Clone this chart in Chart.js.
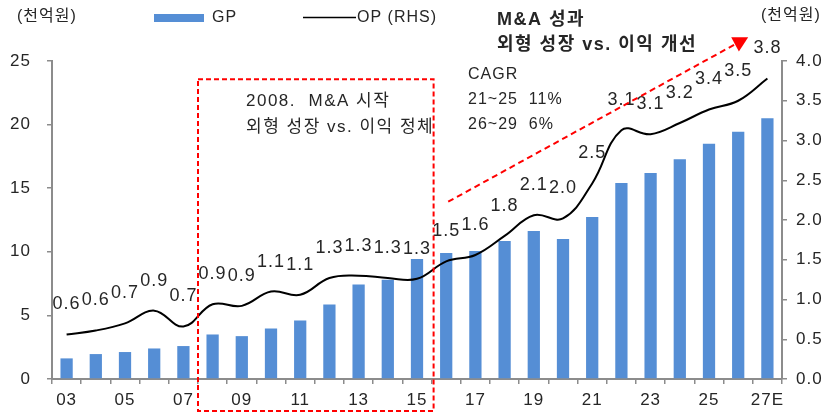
<!DOCTYPE html>
<html>
<head>
<meta charset="utf-8">
<script src="https://cdn.jsdelivr.net/npm/chart.js@4.4.1/dist/chart.umd.min.js"></script>
<style>
html,body{margin:0;padding:0;background:#fff;}
#wrap{width:834px;height:416px;position:relative;}
</style>
</head>
<body>
<div id="wrap"><canvas id="c" width="834" height="416"></canvas></div>
<script>
const categories = ['03','04','05','06','07','08','09','10','11','12','13','14','15','16','17','18','19','20','21','22','23','24','25','26','27E'];
const gpValues = [1.62,1.96,2.12,2.40,2.59,3.50,3.37,3.97,4.60,5.86,7.43,7.80,9.44,9.90,10.07,10.85,11.64,11.00,12.74,15.40,16.20,17.27,18.50,19.43,20.50];
const opValues = [0.56,0.61,0.70,0.86,0.66,0.94,0.92,1.10,1.06,1.27,1.30,1.27,1.26,1.48,1.56,1.80,2.06,2.02,2.46,3.13,3.08,3.22,3.39,3.50,3.78];
const leftTicks = [0,5,10,15,20,25];
const rightTicks = [0,0.5,1,1.5,2,2.5,3,3.5,4];

const FONT = '"Liberation Sans", "Noto Sans CJK KR", sans-serif';
const TXT = '#262626';
const AXIS = '#8c8c8c';
const RED = '#ff0000';

function setSpacing(ctx, v){ try { ctx.letterSpacing = v; } catch(e){} }

const spacingPlugin = {
  id: 'spacing',
  beforeDraw(chart){ setSpacing(chart.ctx, '1px'); }
};

const labelPlugin = {
  id: 'oplabels',
  afterDatasetsDraw(chart){
    const ctx = chart.ctx;
    const meta = chart.getDatasetMeta(1);
    ctx.save();
    setSpacing(ctx, '1px');
    ctx.font = '18px ' + FONT;
    ctx.fillStyle = TXT;
    ctx.textAlign = 'center';
    ctx.textBaseline = 'middle';
    meta.data.forEach((pt, i) => {
      ctx.fillText(opValues[i].toFixed(1), pt.x, pt.y - 30);
    });
    ctx.restore();
  }
};

const decoPlugin = {
  id: 'deco',
  afterDraw(chart){
    const ctx = chart.ctx;
    const xs = chart.scales.x, yl = chart.scales.y, yr = chart.scales.y1;
    const half = (xs.getPixelForValue(1) - xs.getPixelForValue(0)) / 2;
    ctx.save();
    setSpacing(ctx, '1px');
    ctx.fillStyle = TXT;
    ctx.textBaseline = 'middle';
    ctx.textAlign = 'left';
    // unit labels
    ctx.font = '16px ' + FONT;
    ctx.fillText('(천억원)', 17, 17);
    ctx.fillText('(천억원)', 761, 16);
    // legend
    ctx.fillStyle = '#558ed5';
    ctx.fillRect(154, 14, 50, 8);
    ctx.fillStyle = TXT;
    ctx.fillText('GP', 212, 18);
    ctx.strokeStyle = '#000';
    ctx.lineWidth = 1.5;
    ctx.beginPath(); ctx.moveTo(303, 17.5); ctx.lineTo(356, 17.5); ctx.stroke();
    ctx.fillText('OP (RHS)', 357, 18);
    // bold title
    setSpacing(ctx, '1.5px');
    ctx.font = 'bold 18px ' + FONT;
    ctx.fillText('M&A 성과', 497, 20);
    ctx.fillText('외형 성장 vs. 이익 개선', 497, 45);
    // CAGR
    setSpacing(ctx, '1px');
    ctx.font = '16px ' + FONT;
    ctx.fillText('CAGR', 468, 75);
    ctx.fillText('21~25  11%', 468, 100);
    ctx.fillText('26~29  6%', 468, 125);
    // box text
    setSpacing(ctx, '1.5px');
    ctx.font = '17px ' + FONT;
    ctx.fillText('2008.  M&A 시작', 246, 101);
    ctx.fillText('외형 성장 vs. 이익 정체', 246, 127);
    // red dashed box (07|08 boundary to 15|16 boundary)
    const bx0 = xs.getPixelForValue(4) + half;
    const bx1 = xs.getPixelForValue(12) + half + 2;
    const by0 = yl.getPixelForValue(23.57);
    const by1 = 411;
    ctx.strokeStyle = RED;
    ctx.lineWidth = 2;
    ctx.setLineDash([5, 3]);
    ctx.strokeRect(bx0, by0, bx1 - bx0, by1 - by0);
    // arrow
    const ax0 = xs.getPixelForValue(13) + 2, ay0 = yr.getPixelForValue(2.23);
    const tx = xs.getPixelForValue(23) + 10, ty = yr.getPixelForValue(4.3);
    const ang = Math.atan2(ty - ay0, tx - ax0);
    const L = 15, W = 8;
    const bcx = tx - L * Math.cos(ang), bcy = ty - L * Math.sin(ang);
    ctx.setLineDash([6, 4]);
    ctx.beginPath(); ctx.moveTo(ax0, ay0); ctx.lineTo(bcx, bcy); ctx.stroke();
    ctx.setLineDash([]);
    ctx.fillStyle = RED;
    ctx.beginPath();
    ctx.moveTo(tx, ty);
    ctx.lineTo(bcx + W * Math.sin(ang), bcy - W * Math.cos(ang));
    ctx.lineTo(bcx - W * Math.sin(ang), bcy + W * Math.cos(ang));
    ctx.closePath();
    ctx.fill();
    ctx.restore();
  }
};

new Chart(document.getElementById('c'), {
  type: 'bar',
  data: {
    labels: categories,
    datasets: [
      {
        label: 'GP',
        data: gpValues,
        backgroundColor: '#558ed5',
        barPercentage: 0.42,
        categoryPercentage: 1.0,
        yAxisID: 'y',
        order: 2
      },
      {
        type: 'line',
        label: 'OP (RHS)',
        data: opValues,
        borderColor: '#000',
        borderWidth: 2,
        pointRadius: 0,
        tension: 0.4,
        fill: false,
        yAxisID: 'y1',
        order: 1
      }
    ]
  },
  options: {
    responsive: false,
    animation: false,
    events: [],
    layout: { padding: { top: 61, left: 0, right: 0, bottom: 0 } },
    plugins: { legend: { display: false }, tooltip: { enabled: false } },
    scales: {
      x: {
        offset: true,
        grid: { display: true, drawOnChartArea: false, offset: true, tickLength: 5, color: AXIS, lineWidth: 1.5 },
        border: { display: true, color: AXIS, width: 2 },
        ticks: {
          autoSkip: false, maxRotation: 0, minRotation: 0, padding: 6,
          color: TXT, font: { family: FONT, size: 17 },
          callback: (v, i) => (i % 2 === 0 ? categories[i] : '')
        },
        afterFit: s => { s.height = 37; }
      },
      y: {
        position: 'left', min: 0, max: 25,
        afterBuildTicks: s => { s.ticks = leftTicks.map(v => ({ value: v })); },
        grid: { display: true, drawOnChartArea: false, tickLength: 5, color: AXIS, lineWidth: 1.5 },
        border: { display: true, color: AXIS, width: 2 },
        ticks: { padding: 16, color: TXT, font: { family: FONT, size: 17 } },
        afterFit: s => { s.width = 52; }
      },
      y1: {
        position: 'right', min: 0, max: 4,
        afterBuildTicks: s => { s.ticks = rightTicks.map(v => ({ value: v })); },
        grid: { display: true, drawOnChartArea: false, tickLength: 5, color: AXIS, lineWidth: 1.5 },
        border: { display: true, color: AXIS, width: 2 },
        ticks: { padding: 9, color: TXT, font: { family: FONT, size: 17 }, callback: v => Number(v).toFixed(1) },
        afterFit: s => { s.width = 52; }
      }
    }
  },
  plugins: [spacingPlugin, labelPlugin, decoPlugin]
});
</script>
</body>
</html>
